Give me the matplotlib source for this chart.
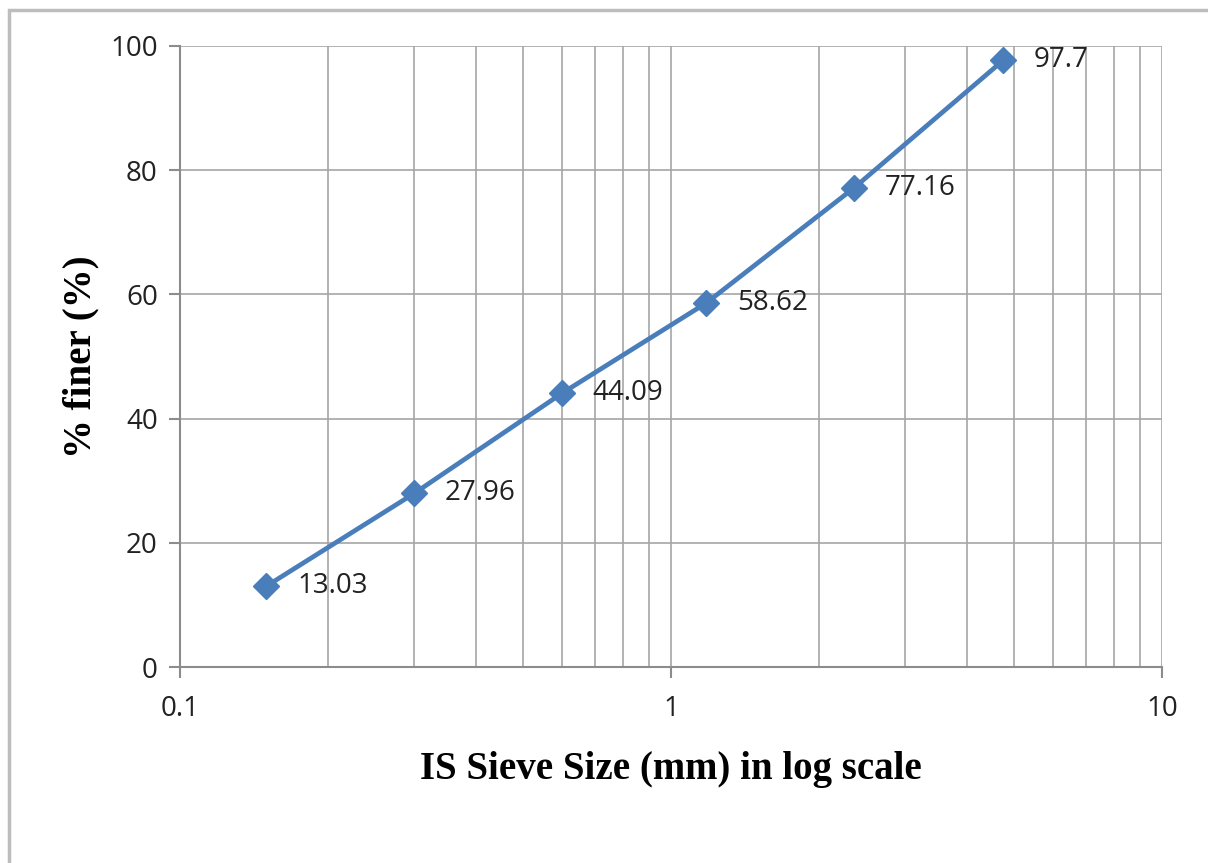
import matplotlib.pyplot as plt
from matplotlib.patches import Rectangle
from matplotlib.ticker import LogLocator, NullFormatter, FixedLocator

# sieve sizes (mm) and percent finer
sizes = [0.15, 0.3, 0.6, 1.18, 2.36, 4.75]
finer = [13.03, 27.96, 44.09, 58.62, 77.16, 97.7]
labels = ["13.03", "27.96", "44.09", "58.62", "77.16", "97.7"]

fig = plt.figure(figsize=(12.08, 8.63), dpi=100)
ax = fig.add_axes([180 / 1208, 1 - 667 / 863, 982 / 1208, 621 / 863])

# outer frame of the chart area
fig.patches.append(Rectangle((9 / 1208, -0.1), 1.2, 1 - 10 / 863 + 0.1,
                             transform=fig.transFigure, fill=False,
                             edgecolor="#bdbdbd", linewidth=2.5))

ax.set_xscale("log")
ax.set_xlim(0.1, 10)
ax.set_ylim(0, 100)

ax.plot(sizes, finer, color="#4a7ebb", linewidth=3.4, marker="D",
        markersize=13, markerfacecolor="#4a7ebb", markeredgecolor="#4a7ebb",
        zorder=3)

for x, y, t in zip(sizes, finer, labels):
    ax.annotate(t, (x, y), xytext=(22, 0), textcoords="offset points",
                fontsize=20, family="Open Sans", va="center", ha="left",
                color="#222222")

grid_c = "#a6a6a6"
ax.xaxis.set_major_locator(FixedLocator([0.1, 1, 10]))
ax.xaxis.set_minor_locator(LogLocator(base=10, subs=range(2, 10)))
ax.xaxis.set_minor_formatter(NullFormatter())
ax.set_xticklabels(["0.1", "1", "10"])
ax.set_yticks([0, 20, 40, 60, 80, 100])

ax.grid(True, which="both", axis="x", color=grid_c, linewidth=1.2)
ax.grid(True, which="major", axis="y", color=grid_c, linewidth=1.2)
ax.set_axisbelow(True)

for s in ["top", "right"]:
    ax.spines[s].set_visible(False)
for s in ["left", "bottom"]:
    ax.spines[s].set_color("#8c8c8c")
    ax.spines[s].set_linewidth(1.5)

ax.tick_params(axis="both", which="major", length=8, width=1.5,
               color="#8c8c8c", labelsize=20, labelcolor="#222222", pad=8)
ax.tick_params(axis="x", which="major", pad=12)
ax.tick_params(axis="x", which="minor", length=0)
for lab in ax.get_xticklabels() + ax.get_yticklabels():
    lab.set_family("Open Sans")

ax.set_xlabel("IS Sieve Size (mm) in log scale", family="Liberation Serif",
              fontweight="bold", fontsize=28, labelpad=20)
ax.set_ylabel("% finer (%)", family="Liberation Serif", fontweight="bold",
              fontsize=28, labelpad=8)

fig.savefig("out.png", dpi=100)
